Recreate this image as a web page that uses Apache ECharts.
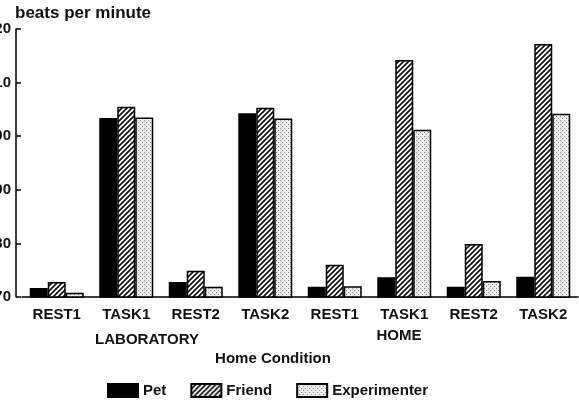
<!DOCTYPE html>
<html>
<head>
<meta charset="utf-8">
<script src="https://cdn.jsdelivr.net/npm/echarts@6/dist/echarts.min.js"></script>
<style>
  html, body { margin: 0; padding: 0; background: #fff; }
  #main { width: 579px; height: 402px; }
</style>
</head>
<body>
<div id="main"></div>
<script>
// categories along the x axis (first four LABORATORY, last four HOME)
const categories = ["REST1", "TASK1", "REST2", "TASK2", "REST1", "TASK1", "REST2", "TASK2"];
const groupLabels = ["LABORATORY", "HOME"];
const seriesNames = ["Pet", "Friend", "Experimenter"];

// heart rate, beats per minute
const petValues = [71.7, 103.4, 72.8, 104.3, 71.9, 73.7, 71.9, 73.8];
const friendValues = [72.8, 105.5, 74.9, 105.3, 76.0, 114.2, 79.9, 117.2];
const experimenterValues = [70.8, 103.5, 71.9, 103.3, 72.0, 101.2, 73.0, 104.2];

const yMin = 70, yMax = 120, yStep = 10;

const font = "Liberation Sans";

// hatched fill for Friend
function hatchPattern() {
  const c = document.createElement("canvas");
  c.width = 5; c.height = 5;
  const ctx = c.getContext("2d");
  ctx.fillStyle = "#fff";
  ctx.fillRect(0, 0, 5, 5);
  ctx.strokeStyle = "#111";
  ctx.lineWidth = 1.7;
  ctx.beginPath();
  ctx.moveTo(-1, 6); ctx.lineTo(6, -1);
  ctx.moveTo(-1, 1); ctx.lineTo(1, -1);
  ctx.moveTo(4, 6); ctx.lineTo(6, 4);
  ctx.stroke();
  return c;
}

// stippled fill for Experimenter
function dotPattern() {
  const c = document.createElement("canvas");
  c.width = 4; c.height = 4;
  const ctx = c.getContext("2d");
  ctx.fillStyle = "#eeeeee";
  ctx.fillRect(0, 0, 4, 4);
  ctx.fillStyle = "#7a7a7a";
  ctx.fillRect(0, 0, 1, 1);
  ctx.fillRect(2, 2, 1, 1);
  return c;
}

const chart = echarts.init(document.getElementById("main"));

const barStyle = function (fill) {
  return { color: fill, borderColor: "#000", borderWidth: 1.5 };
};

const option = {
  animation: false,
  backgroundColor: "#fff",
  grid: { left: 22, right: 1, top: 29, bottom: 105, outerBoundsMode: "none", containLabel: false },
  legend: {
    data: seriesNames,
    icon: "rect",
    left: 102,
    top: 378,
    itemWidth: 30,
    itemHeight: 13,
    itemGap: 24,
    textStyle: { fontFamily: font, fontWeight: "bold", fontSize: 15, color: "#111" }
  },
  xAxis: {
    type: "category",
    data: categories,
    axisLine: { lineStyle: { color: "#000", width: 1.5 } },
    axisTick: { show: false },
    axisLabel: {
      margin: 10,
      interval: 0,
      fontFamily: font,
      fontWeight: "bold",
      fontSize: 15,
      color: "#111"
    }
  },
  yAxis: {
    type: "value",
    min: yMin,
    max: yMax,
    interval: yStep,
    offset: 6,
    axisLine: { show: true, lineStyle: { color: "#000", width: 1.5 } },
    axisTick: { show: true, inside: true, length: 5, lineStyle: { color: "#000", width: 1.5 } },
    splitLine: { show: false },
    axisLabel: {
      margin: 5,
      fontFamily: font,
      fontWeight: "bold",
      fontSize: 15,
      color: "#111"
    }
  },
  graphic: [
    {
      type: "text", left: 15, top: 5,
      style: { text: "beats per minute", font: "bold 17px " + font, fill: "#111" }
    },
    {
      type: "text", x: 147, y: 332,
      style: { text: groupLabels[0], font: "bold 15px " + font, fill: "#111", textAlign: "center" }
    },
    {
      type: "text", x: 399, y: 328,
      style: { text: groupLabels[1], font: "bold 15px " + font, fill: "#111", textAlign: "center" }
    },
    {
      type: "text", x: 273, y: 351,
      style: { text: "Home Condition", font: "bold 15px " + font, fill: "#111", textAlign: "center" }
    }
  ],
  series: [
    {
      name: seriesNames[0],
      type: "bar",
      barWidth: 18,
      barGap: "0%",
      itemStyle: barStyle("#000"),
      data: petValues
    },
    {
      name: seriesNames[1],
      type: "bar",
      barWidth: 18,
      barGap: "0%",
      itemStyle: barStyle({ image: hatchPattern(), repeat: "repeat" }),
      data: friendValues
    },
    {
      name: seriesNames[2],
      type: "bar",
      barWidth: 18,
      barGap: "0%",
      itemStyle: barStyle({ image: dotPattern(), repeat: "repeat" }),
      data: experimenterValues
    }
  ]
};

chart.setOption(option);
</script>
</body>
</html>
